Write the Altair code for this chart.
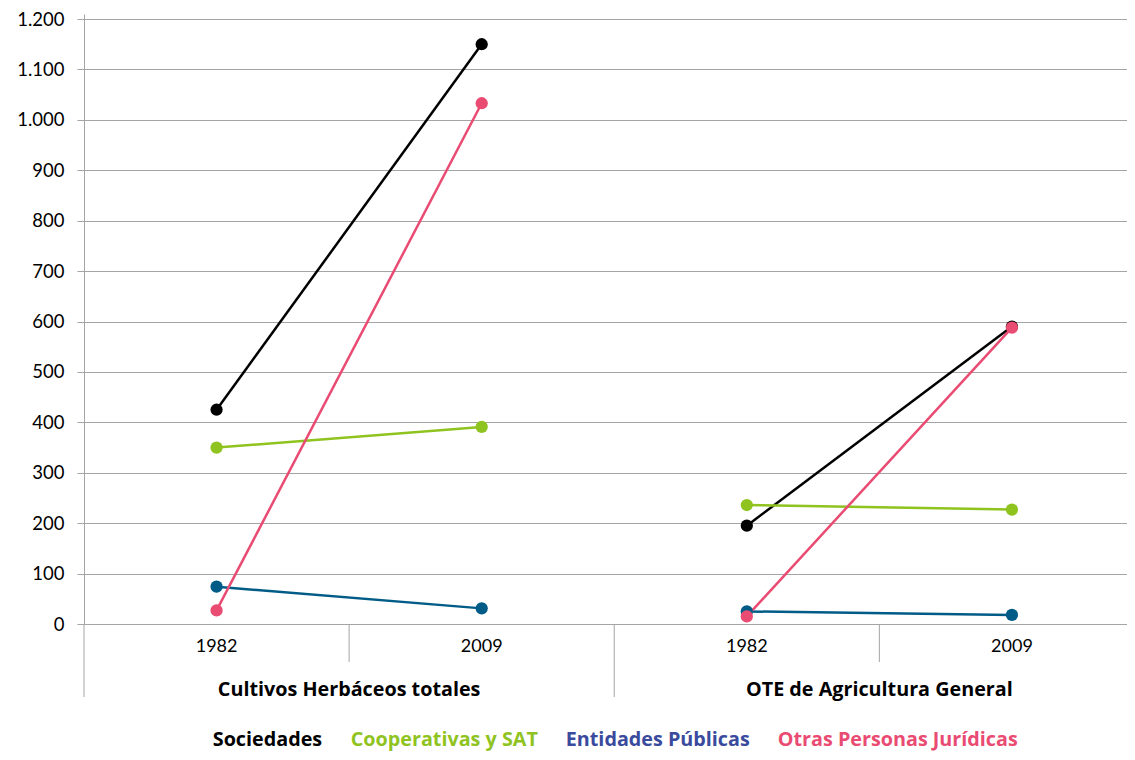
import altair as alt
import pandas as pd

groups = ["Cultivos Herbáceos totales", "OTE de Agricultura General"]
years = ["1982", "2009"]
series = ["Sociedades", "Cooperativas y SAT", "Entidades Públicas", "Otras Personas Jurídicas"]
line_colors = ["#000000", "#8fc31f", "#005b87", "#e94b72"]
legend_colors = ["#000000", "#8fc31f", "#3a4a9d", "#e94b72"]

# values per series: [grupo1-1982, grupo1-2009, grupo2-1982, grupo2-2009]
sociedades = [425, 1150, 195, 590]
cooperativas = [350, 391, 236, 227]
entidades = [74, 31, 25, 18]
otras = [27, 1033, 15, 588]
values = [sociedades, cooperativas, entidades, otras]

rows = []
for s, vals in zip(series, values):
    for gi, g in enumerate(groups):
        for yi, y in enumerate(years):
            rows.append({"series": s, "group": g, "year": y, "pos": gi * 2 + yi, "value": vals[gi * 2 + yi]})
df = pd.DataFrame(rows)

cats = pd.DataFrame([{"group": g, "year": y, "pos": gi * 2 + yi, "first": yi == 0}
                     for gi, g in enumerate(groups) for yi, y in enumerate(years)])

FONT = "Lato"
BFONT = "Open Sans"
GRAY = "#a5a5a5"

xscale = alt.Scale(domain=[-0.5, 3.434], nice=False, zero=False)
xenc = alt.X("pos:Q", scale=xscale, axis=None)
yenc = alt.Y("value:Q", scale=alt.Scale(domain=[0, 1210], nice=False),
             axis=alt.Axis(values=list(range(0, 1201, 100)), title=None,
                           labelExpr="replace(format(datum.value, ','), ',', '.')",
                           labelFont=FONT, labelFontSize=18.5, labelColor="#000000",
                           tickSize=7, tickColor=GRAY, domainColor=GRAY, gridColor=GRAY,
                           labelPadding=13, minExtent=68, maxExtent=68))

label_expr = " : ".join(
    [f"datum.label == '{s}' ? '{c}'" for s, c in zip(series[:-1], legend_colors[:-1])]
) + f" : '{legend_colors[-1]}'"

color = alt.Color("series:N", sort=series,
                  scale=alt.Scale(domain=series, range=line_colors),
                  legend=alt.Legend(orient="none", legendX=109, legendY=716, direction="horizontal",
                                    title=None, symbolSize=0, symbolOpacity=0, symbolStrokeWidth=0,
                                    labelFont=BFONT, labelFontSize=19.75, labelFontWeight="bold",
                                    labelColor={"expr": label_expr}, labelOffset=0,
                                    columnPadding=8, labelLimit=0))

lines = alt.Chart(df).mark_line(strokeWidth=2.5).encode(x=xenc, y=yenc, color=color, detail="group:N")
points = alt.Chart(df).mark_circle(size=150, opacity=1).encode(x=xenc, y=yenc, color=color)

year_text = alt.Chart(cats).mark_text(font=FONT, fontSize=18, baseline="middle", color="#000000").encode(
    x=xenc, y=alt.value(633), text="year:N")
group_text = alt.Chart(cats).transform_aggregate(pos="mean(pos)", groupby=["group"]).mark_text(
    font=BFONT, fontSize=19.75, fontWeight="bold", baseline="middle", color="#000000").encode(
    x=xenc, y=alt.value(676), text="group:N")

rule_long = alt.Chart(cats).transform_filter("datum.first").transform_calculate(b="datum.pos - 0.5").mark_rule(
    color=GRAY, strokeWidth=1).encode(
    x=alt.X("b:Q", scale=xscale, axis=None), y=alt.value(610), y2=alt.value(683))
rule_short = alt.Chart(cats).transform_filter("!datum.first").transform_calculate(b="datum.pos - 0.5").mark_rule(
    color=GRAY, strokeWidth=1).encode(
    x=alt.X("b:Q", scale=xscale, axis=None), y=alt.value(610), y2=alt.value(648))

chart = alt.layer(rule_long, rule_short, year_text, group_text, lines, points).properties(
    width=1043, height=610,
    padding={"left": 76, "top": 6, "right": 0, "bottom": 128},
    autosize=alt.AutoSizeParams(type="none"),
).configure_view(stroke=None).configure_axis(grid=True)

chart.save("out.html", embed_options={"renderer": "svg", "actions": False})
